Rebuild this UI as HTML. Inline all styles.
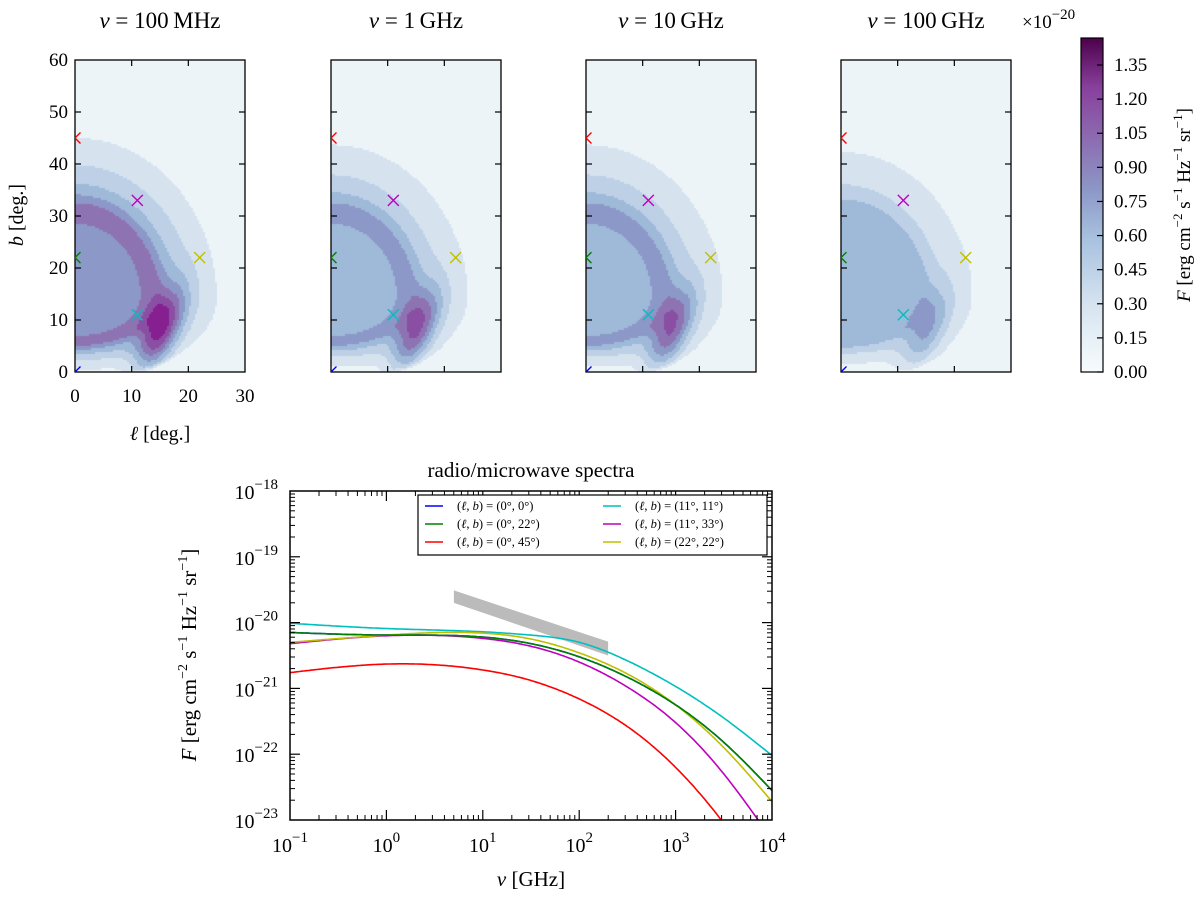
<!DOCTYPE html>
<html><head><meta charset="utf-8">
<style>
body{margin:0;background:#fff;width:1200px;height:898px;overflow:hidden;position:relative;font-family:"Liberation Serif","DejaVu Serif",serif}
canvas{position:absolute}
svg{position:absolute;left:0;top:0}
text{font-family:"Liberation Serif","DejaVu Serif",serif;fill:#000}
</style></head>
<body>
<canvas id="m0" width="170" height="312" style="left:75px;top:60px"></canvas>
<canvas id="m1" width="170" height="312" style="left:331px;top:60px"></canvas>
<canvas id="m2" width="170" height="312" style="left:586px;top:60px"></canvas>
<canvas id="m3" width="170" height="312" style="left:841px;top:60px"></canvas>
<svg id="s" width="1200" height="898">
<defs><linearGradient id="cbg" x1="0" y1="1" x2="0" y2="0">
<stop offset="0" stop-color="#f7fcfd"/><stop offset="0.2" stop-color="#d6e4f0"/><stop offset="0.4" stop-color="#a7c1df"/>
<stop offset="0.55" stop-color="#8c96c6"/><stop offset="0.7" stop-color="#8c6bb1"/><stop offset="0.85" stop-color="#88419d"/><stop offset="1" stop-color="#4d004b"/></linearGradient></defs>
</svg>
<script>
const NS="http://www.w3.org/2000/svg";
const S=document.getElementById('s');
function el(t,a,p){const e=document.createElementNS(NS,t);for(const k in a)e.setAttribute(k,a[k]);(p||S).appendChild(e);return e;}
function txt(x,y,s,sz,anc,name,rot){const e=el('text',{x:x,y:y,'font-size':sz,'text-anchor':anc||'middle'});if(rot)e.setAttribute('transform','rotate(-90 '+x+' '+y+')');e.innerHTML=s;

return e;}

// ---- maps ----
const panelTitles=["100\u2009MHz","1\u2009GHz","10\u2009GHz","100\u2009GHz"];
const panelLeft=[75,331,586,841];
const baseScale=[1.0,0.8,0.8,0.66];
const peakScale=[1.0,0.85,0.8,0.5];
const levelColors=["#edf4f8","#d6e3ef","#bdd0e5","#9fb9d9","#8c98c7","#8e73b3","#8a4fa3","#861f8f","#7a0f74","#560a52"];
const markersL=[0,0,0,11,11,22];
const markersB=[0,22,45,11,33,22];
const markerCols=["#0000ff","#008000","#ff0000","#00bfbf","#bf00bf","#bfbf00"];
const profD=[0,0.45,0.5,0.58,0.64,0.7,0.82,1.0,1.05];
const profV=[0.7,0.72,0.8,0.8,0.62,0.47,0.31,0.15,0];
const PX=170/30, PY=312/60;
function prof(d){if(d>=1.05)return 0;for(let i=0;i<profD.length-1;i++)if(d<profD[i+1])return profV[i]+(profV[i+1]-profV[i])*(d-profD[i])/(profD[i+1]-profD[i]);return 0;}
function field(l,b,k){
  const sl=25, sb=b>=14?31:15;
  let dl=l/sl, db=(b-14)/sb;
  let d=Math.sqrt(dl*dl+db*db);
  let base=prof(d);
  if(b<4) base*=Math.max(0.4,0.6+b/10);
  base*=baseScale[k];
  let cu=l-15, cv=b-7.5, a=1.2;
  let u=cu*Math.cos(a)+cv*Math.sin(a), v=-cu*Math.sin(a)+cv*Math.cos(a);
  let pk=0.72*Math.exp(-(u*u/70+v*v/9))*peakScale[k];
  if(d>1.0) pk*=Math.max(0,1-(d-1)*10);
  return base+pk;
}
for(let k=0;k<4;k++){
  const c=document.getElementById('m'+k).getContext('2d');
  for(let y=0;y<312;y+=2)for(let x=0;x<170;x+=2){
    const l=(x+1)/PX, b=60-(y+1)/PY;
    let v=field(l,b,k);let i=Math.min(9,Math.max(0,Math.floor(v/0.15)));
    c.fillStyle=levelColors[i];c.fillRect(x,y,2,2);
  }
  const L=panelLeft[k];
  const g=el('g',{});
  
  
  el('rect',{x:L,y:60,width:170,height:312,fill:'none',stroke:'#000','stroke-width':1.3},g);
  [10,20].forEach(t=>{const x=L+t*PX;el('line',{x1:x,y1:372,x2:x,y2:366,stroke:'#000','stroke-width':1.2},g);el('line',{x1:x,y1:60,x2:x,y2:66,stroke:'#000','stroke-width':1.2},g);});
  [10,20,30,40,50].forEach(t=>{const y=372-t*PY;el('line',{x1:L,y1:y,x2:L+6,y2:y,stroke:'#000','stroke-width':1.2},g);el('line',{x1:L+170,y1:y,x2:L+164,y2:y,stroke:'#000','stroke-width':1.2},g);});
  const cp=el('clipPath',{id:'cp'+k});el('rect',{x:L,y:60,width:170,height:312},cp);
  for(let m=0;m<6;m++){const x=L+markersL[m]*PX,y=372-markersB[m]*PY,s=5.5;
    const mk=el('path',{d:`M${x-s} ${y-s}L${x+s} ${y+s}M${x-s} ${y+s}L${x+s} ${y-s}`,stroke:markerCols[m],'stroke-width':1.4,'clip-path':'url(#cp'+k+')'},g);
    
    }
  txt(L+85,28,'<tspan font-style="italic">ν</tspan> = '+panelTitles[k],23,'middle','panel-title-'+(k+1));
}
[0,10,20,30].forEach(t=>txt(75+t*PX,402,t,19,'middle','x-tick-'+t));
[0,10,20,30,40,50,60].forEach(t=>txt(68,372-t*PY+6,t,19,'end','y-tick-'+t));
txt(160,440,'<tspan font-style="italic">ℓ</tspan> [deg.]',20,'middle','x-axis-title-map');
txt(23,215,'<tspan font-style="italic">b</tspan> [deg.]',20,'middle','y-axis-title-map',true);
// colorbar
const cbTicks=["0.00","0.15","0.30","0.45","0.60","0.75","0.90","1.05","1.20","1.35"];
const cb=el('rect',{x:1081,y:38,width:22,height:334,fill:'url(#cbg)',stroke:'#000','stroke-width':1.2});

cbTicks.forEach((t,i)=>{const y=372-parseFloat(t)*227.4;el('line',{x1:1097,y1:y,x2:1103,y2:y,stroke:'#000','stroke-width':1.2});txt(1114,y+6,t,19,'start','colorbar-tick-'+i);});
txt(1022,28,'×10<tspan dy="-9" font-size="15">−20</tspan>',19,'start','colorbar-exponent');
txt(1190,205,'<tspan font-style="italic">F</tspan> [erg cm<tspan dy="-8" font-size="13">−2</tspan><tspan dy="8"> s</tspan><tspan dy="-8" font-size="13">−1</tspan><tspan dy="8"> Hz</tspan><tspan dy="-8" font-size="13">−1</tspan><tspan dy="8"> sr</tspan><tspan dy="-8" font-size="13">−1</tspan><tspan dy="8">]</tspan>',19,'middle','colorbar-title',true);

// ---- spectra ----
const logNu=[-1,0,1,1.5,2,2.5,3,3.5,4];
const sCyan=[-20.01,-20.09,-20.14,-20.19,-20.30,-20.58,-20.97,-21.45,-22.02];
const sGreen=[-20.15,-20.19,-20.22,-20.32,-20.52,-20.83,-21.25,-21.82,-22.55];
const sBlue=sGreen.slice();
const sYellow=[-20.30,-20.19,-20.16,-20.25,-20.46,-20.78,-21.25,-21.90,-22.72];
const sMagenta=[-20.32,-20.20,-20.24,-20.36,-20.60,-20.98,-21.52,-22.30,-23.3];
const sRed=[-20.76,-20.63,-20.72,-20.88,-21.16,-21.58,-22.20,-23.05,-24.1];
const bandX=[0.7,2.3];
const bandTop=[-19.51,-20.29];
const bandBot=[-19.70,-20.50];
const X0=290,X1=772,Y0=491,Y1=820;
const xs=v=>X0+(v+1)/5*(X1-X0);
const ys=v=>Y0+(-18-v)/5*(Y1-Y0);
const cpS=el('clipPath',{id:'cps'});el('rect',{x:X0,y:Y0,width:X1-X0,height:Y1-Y0},cpS);
const band=el('polygon',{points:[xs(bandX[0])+','+ys(bandTop[0]),xs(bandX[1])+','+ys(bandTop[1]),xs(bandX[1])+','+ys(bandBot[1]),xs(bandX[0])+','+ys(bandBot[0])].join(' '),fill:'#bbbbbb'});

function spline(x,y){const n=x.length,h=[],a=[],l=[1],mu=[0],z=[0],c=new Array(n).fill(0),b=[],d=[];
 for(let i=0;i<n-1;i++)h[i]=x[i+1]-x[i];
 for(let i=1;i<n-1;i++)a[i]=3/h[i]*(y[i+1]-y[i])-3/h[i-1]*(y[i]-y[i-1]);
 for(let i=1;i<n-1;i++){l[i]=2*(x[i+1]-x[i-1])-h[i-1]*mu[i-1];mu[i]=h[i]/l[i];z[i]=(a[i]-h[i-1]*z[i-1])/l[i];}
 for(let j=n-2;j>=0;j--){c[j]=(j>0?z[j]-mu[j]*c[j+1]:0);b[j]=(y[j+1]-y[j])/h[j]-h[j]*(c[j+1]+2*c[j])/3;d[j]=(c[j+1]-c[j])/(3*h[j]);}
 return t=>{let j=0;while(j<n-2&&t>x[j+1])j++;const dt=t-x[j];return y[j]+b[j]*dt+c[j]*dt*dt+d[j]*dt*dt*dt;};}
const series=[[sBlue,'#0000ff','blue'],[sMagenta,'#bf00bf','magenta'],[sRed,'#ff0000','red'],[sCyan,'#00bfbf','cyan'],[sYellow,'#bfbf00','yellow'],[sGreen,'#008000','green']];
series.forEach(s=>{const f=spline(logNu,s[0]);let d='';for(let t=-1;t<=4.0001;t+=0.02){d+=(d?'L':'M')+xs(t).toFixed(1)+' '+ys(f(t)).toFixed(1);}
const p=el('path',{d:d,fill:'none',stroke:s[1],'stroke-width':1.6,'clip-path':'url(#cps)'});
});
const fr=el('rect',{x:X0,y:Y0,width:X1-X0,height:Y1-Y0,fill:'none',stroke:'#000','stroke-width':1.5});

for(let d=-1;d<=4;d++){const x=xs(d);
  if(d>-1&&d<4){el('line',{x1:x,y1:Y1,x2:x,y2:Y1-10,stroke:'#000','stroke-width':1.2});el('line',{x1:x,y1:Y0,x2:x,y2:Y0+10,stroke:'#000','stroke-width':1.2});}
  txt(x,852,'10<tspan dy="-10" font-size="15">'+(d<0?'−1':d)+'</tspan>',20,'middle','x-tick-label-'+d);
  if(d<4)for(let m=2;m<10;m++){const xm=xs(d+Math.log10(m));el('line',{x1:xm,y1:Y1,x2:xm,y2:Y1-5,stroke:'#000'});el('line',{x1:xm,y1:Y0,x2:xm,y2:Y0+5,stroke:'#000'});}}
for(let d=-23;d<=-18;d++){const y=ys(d);
  if(d>-23&&d<-18){el('line',{x1:X0,y1:y,x2:X0+10,y2:y,stroke:'#000','stroke-width':1.2});el('line',{x1:X1,y1:y,x2:X1-10,y2:y,stroke:'#000','stroke-width':1.2});}
  txt(278,y+8,'10<tspan dy="-10" font-size="15">−'+(-d)+'</tspan>',20,'end','y-tick-label-'+d);
  if(d<-18)for(let m=2;m<10;m++){const ym=ys(d+Math.log10(m));el('line',{x1:X0,y1:ym,x2:X0+5,y2:ym,stroke:'#000'});el('line',{x1:X1,y1:ym,x2:X1-5,y2:ym,stroke:'#000'});}}
txt(531,477,'radio/microwave spectra',21,'middle','spectra-title');
txt(531,886,'<tspan font-style="italic">ν</tspan> [GHz]',21,'middle','spectra-x-title');
txt(196,655,'<tspan font-style="italic">F</tspan> [erg cm<tspan dy="-9" font-size="14">−2</tspan><tspan dy="9"> s</tspan><tspan dy="-9" font-size="14">−1</tspan><tspan dy="9"> Hz</tspan><tspan dy="-9" font-size="14">−1</tspan><tspan dy="9"> sr</tspan><tspan dy="-9" font-size="14">−1</tspan><tspan dy="9">]</tspan>',21,'middle','spectra-y-title',true);
// legend
const lg=el('g',{});
el('rect',{x:418,y:495,width:349,height:60,fill:'#fff',stroke:'#000','stroke-width':1.2},lg);
const legLabels=["(0°, 0°)","(0°, 22°)","(0°, 45°)","(11°, 11°)","(11°, 33°)","(22°, 22°)"];
const legCols=['#0000ff','#008000','#ff0000','#00bfbf','#bf00bf','#bfbf00'];
legLabels.forEach((s,i)=>{const cx=i<3?425:603,cy=506+(i%3)*18;
  el('line',{x1:cx,y1:cy,x2:cx+18,y2:cy,stroke:legCols[i],'stroke-width':1.6},lg);
  const t=txt(cx+32,cy+4,'(<tspan font-style="italic">ℓ</tspan>, <tspan font-style="italic">b</tspan>) = '+s,12.5,'start','legend-entry-'+i);lg.appendChild(t);});
</script>
</body></html>
